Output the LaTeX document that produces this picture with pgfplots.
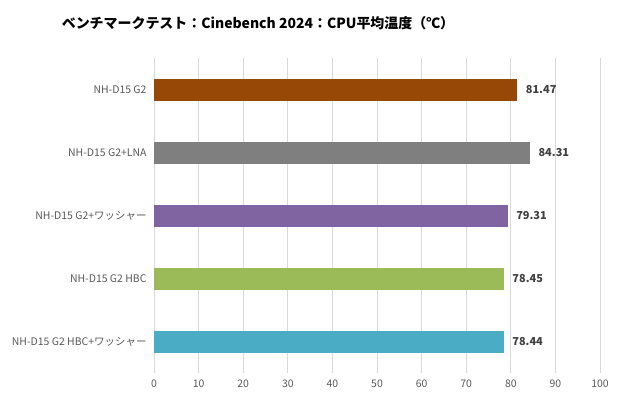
\documentclass[border=0pt]{standalone}
\usepackage{pgfplots}
\pgfplotsset{compat=1.18}
\usepackage{fontspec}
\setmainfont{Noto Sans CJK JP}
\definecolor{c1}{HTML}{974806}
\definecolor{c2}{HTML}{7F7F7F}
\definecolor{c3}{HTML}{8064A2}
\definecolor{c4}{HTML}{9BBB59}
\definecolor{c5}{HTML}{4BACC6}
\definecolor{gridc}{HTML}{D9D9D9}
\definecolor{tickc}{HTML}{595959}
\definecolor{labc}{HTML}{404040}
\begin{document}
\begin{tikzpicture}[x=1bp,y=1bp]
\path[use as bounding box] (0,0) rectangle (620,399);
\node[font=\fontsize{14}{16}\selectfont\bfseries, anchor=center] at (258,376) {ベンチマークテスト：Cinebench 2024：CPU平均温度（℃）};
\begin{axis}[
  at={(154bp,26bp)}, anchor=south west,
  scale only axis, width=446bp, height=315bp,
  xbar, bar width=22bp, bar shift=0pt,
  xmin=0, xmax=100, xtick={0,10,...,100},
  ymin=-0.5, ymax=4.5, y dir=reverse,
  ytick={0,1,2,3,4},
  yticklabels={NH-D15 G2, NH-D15 G2+LNA, NH-D15 G2+ワッシャー, NH-D15 G2 HBC, NH-D15 G2 HBC+ワッシャー},
  axis line style={draw=none},
  xmajorgrids, grid style={gridc, line width=0.8pt},
  major tick length=0pt,
  tick label style={font=\fontsize{10.5}{12}\selectfont, text=tickc},
  xticklabel style={yshift=-3bp},
  yticklabel style={xshift=-4bp},
  /pgf/number format/assume math mode=true,
  nodes near coords, nodes near coords style={font=\fontsize{11}{13}\selectfont\bfseries, text=labc, anchor=west, xshift=5bp, /pgf/number format/fixed, /pgf/number format/precision=2, /pgf/number format/fixed zerofill},
  clip=false,
]
\draw[gridc, line width=0.8pt] (axis cs:0,-0.5) -- (axis cs:0,4.5);
\addplot[fill=c1, draw=none] coordinates {(81.47,0)};
\addplot[fill=c2, draw=none] coordinates {(84.31,1)};
\addplot[fill=c3, draw=none] coordinates {(79.31,2)};
\addplot[fill=c4, draw=none] coordinates {(78.45,3)};
\addplot[fill=c5, draw=none] coordinates {(78.44,4)};
\end{axis}
\end{tikzpicture}
\end{document}
